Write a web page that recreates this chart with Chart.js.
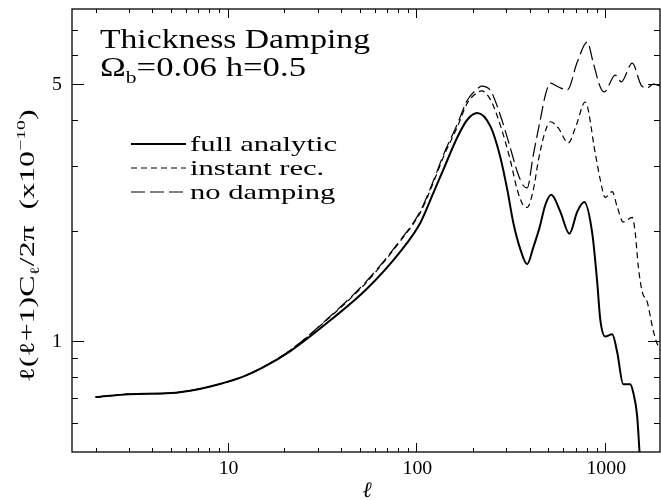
<!DOCTYPE html>
<html>
<head>
<meta charset="utf-8">
<script src="https://cdn.jsdelivr.net/npm/chart.js@4.4.1/dist/chart.umd.min.js"></script>
<style>
  html, body { margin: 0; padding: 0; background: #fff; }
</style>
</head>
<body>
<canvas id="cmbChart" width="661" height="500"></canvas>
<script>
// multipole l and l(l+1)C_l/2pi (x1e-10)
const ellFull = [2, 3, 5, 7, 9, 12, 15.5, 21.5, 35, 54, 82, 105, 123, 139, 165, 186, 210, 247, 278, 303, 326, 355, 386, 416, 448, 482, 518, 578, 646, 711, 774, 853, 907, 941, 1000, 1089, 1157, 1245, 1355, 1406, 1476, 1530];
const clFull = [0.705, 0.718, 0.723, 0.741, 0.764, 0.80, 0.85, 0.94, 1.14, 1.38, 1.75, 2.10, 2.53, 2.93, 3.59, 4.00, 4.17, 3.83, 3.17, 2.58, 2.10, 1.78, 1.62, 1.80, 2.03, 2.35, 2.50, 2.25, 1.96, 2.25, 2.39, 1.97, 1.445, 1.147, 1.03, 1.045, 0.934, 0.764, 0.764, 0.727, 0.626, 0.47];

const ellInstant = [2, 3, 5, 7, 9, 12, 15.5, 21.5, 35, 54, 82, 105, 123, 139, 165, 186, 210, 221, 247, 278, 314, 342, 368, 386, 416, 443, 475, 512, 564, 637, 703, 783, 885, 941, 1000, 1089, 1157, 1245, 1390, 1442, 1496, 1571, 1668, 1774, 1862, 1954];
const clInstant = [0.705, 0.718, 0.723, 0.741, 0.764, 0.80, 0.852, 0.945, 1.165, 1.44, 1.87, 2.24, 2.70, 3.17, 3.83, 4.44, 4.74, 4.79, 4.53, 3.87, 3.11, 2.58, 2.34, 2.31, 2.58, 3.11, 3.64, 3.95, 3.80, 3.46, 3.87, 4.47, 3.25, 2.75, 2.46, 2.55, 2.32, 2.11, 2.17, 1.97, 1.60, 1.36, 1.28, 1.10, 1.00, 0.95];

const ellNoDamp = [2, 3, 5, 7, 9, 12, 15.5, 21.5, 35, 54, 82, 105, 123, 139, 165, 186, 210, 221, 247, 278, 314, 342, 368, 386, 416, 453, 482, 512, 564, 630, 711, 803, 865, 941, 988, 1130, 1216, 1390, 1549, 1668, 1795, 1954];
const clNoDamp = [0.705, 0.718, 0.723, 0.741, 0.764, 0.80, 0.852, 0.945, 1.17, 1.45, 1.88, 2.26, 2.73, 3.21, 3.90, 4.52, 4.85, 4.94, 4.80, 4.12, 3.36, 2.89, 2.65, 2.61, 3.21, 4.00, 4.67, 5.03, 4.91, 4.82, 5.74, 6.50, 5.70, 4.91, 4.76, 5.29, 5.07, 5.70, 4.97, 4.88, 5.00, 4.94];

const seriesNames = ['full analytic', 'instant rec.', 'no damping'];

const xMajorTicks = [10, 100, 1000];
const xMinorTicks = [2, 3, 4, 5, 6, 7, 8, 9, 20, 30, 40, 50, 60, 70, 80, 90, 200, 300, 400, 500, 600, 700, 800, 900];
const yMajorTicks = [1, 5];
const yMinorTicks = [0.6, 0.7, 0.8, 0.9, 2, 3, 4, 6, 7];

const toPoints = (xs, ys) => xs.map((x, i) => ({ x: x, y: ys[i] }));

const SERIF = '"Liberation Serif", serif';

// text pieces: [text, relative size, baseline shift in em]
function richWidth(ctx, parts, size) {
    let w = 0;
    for (const [t, s] of parts) {
        ctx.font = `${size * s}px ${SERIF}`;
        w += ctx.measureText(t).width;
    }
    return w;
}
// draw pieces starting at (x, y), stretched horizontally by sx
function drawRich(ctx, parts, x, y, size, sx) {
    ctx.save();
    ctx.translate(x, y);
    ctx.scale(sx, 1);
    let cx = 0;
    for (const [t, s, dy] of parts) {
        ctx.font = `${size * s}px ${SERIF}`;
        ctx.fillText(t, cx, dy * size);
        cx += ctx.measureText(t).width;
    }
    ctx.restore();
}

const decorPlugin = {
    id: 'decor',
    afterDraw(chart) {
        const ctx = chart.ctx;
        const { left, right, top, bottom } = chart.chartArea;
        const xs = chart.scales.x, ys = chart.scales.y;
        ctx.save();
        ctx.strokeStyle = '#000';
        ctx.fillStyle = '#000';

        // frame
        ctx.lineWidth = 1.3;
        ctx.strokeRect(left, top, right - left, bottom - top);

        // inward ticks on all four sides
        ctx.lineWidth = 1;
        const xTick = (v, len) => {
            const px = Math.round(xs.getPixelForValue(v)) + 0.5;
            ctx.beginPath();
            ctx.moveTo(px, bottom); ctx.lineTo(px, bottom - len);
            ctx.moveTo(px, top); ctx.lineTo(px, top + len);
            ctx.stroke();
        };
        const yTick = (v, len) => {
            const py = Math.round(ys.getPixelForValue(v)) + 0.5;
            ctx.beginPath();
            ctx.moveTo(left, py); ctx.lineTo(left + len, py);
            ctx.moveTo(right, py); ctx.lineTo(right - len, py);
            ctx.stroke();
        };
        xMinorTicks.forEach(v => xTick(v, 4));
        xMajorTicks.forEach(v => xTick(v, 9));
        yMinorTicks.forEach(v => yTick(v, 6));
        yMajorTicks.forEach(v => yTick(v, 12));

        ctx.textBaseline = 'alphabetic';
        ctx.textAlign = 'left';

        // tick labels
        const tickSize = 18, tickSx = 1.1;
        xMajorTicks.forEach(v => {
            const w = richWidth(ctx, [[String(v), 1]], tickSize) * tickSx;
            drawRich(ctx, [[String(v), 1, 0]], xs.getPixelForValue(v) - w / 2 + 1, 474, tickSize, tickSx);
        });
        yMajorTicks.forEach(v => {
            const w = richWidth(ctx, [[String(v), 1]], tickSize) * tickSx;
            drawRich(ctx, [[String(v), 1, 0]], 62 - w, ys.getPixelForValue(v) + 6, tickSize, tickSx);
        });

        // x axis label
        ctx.textAlign = 'center';
        ctx.font = `italic 22px ${SERIF}`;
        ctx.fillText('ℓ', 367, 497);
        ctx.textAlign = 'left';

        // y axis label, rotated
        const yLabel = [['ℓ(ℓ+1)C', 1, 0], ['ℓ', 0.62, 0.22], ['/2π  (x10', 1, 0], ['−10', 0.62, -0.42], [')', 1, 0]];
        const ySize = 21;
        const yW = richWidth(ctx, yLabel, ySize);
        const ySx = 273 / yW;
        ctx.save();
        ctx.translate(34, 246);
        ctx.rotate(-Math.PI / 2);
        drawRich(ctx, yLabel, -136.5, 0, ySize, ySx);
        ctx.restore();

        // title block
        const tSize = 28;
        const t1 = [['Thickness Damping', 1, 0]];
        drawRich(ctx, t1, 100, 48, tSize, 270 / richWidth(ctx, t1, tSize));
        const t2 = [['Ω', 1, 0], ['b', 0.62, 0.25], ['=0.06 h=0.5', 1, 0]];
        drawRich(ctx, t2, 100, 76, tSize, 206 / richWidth(ctx, t2, tSize));

        // legend
        const lgSize = 21;
        const lgSx = 147 / richWidth(ctx, [[seriesNames[0], 1]], lgSize);
        const rows = [144, 168, 192];
        const dashes = [[], [6, 4], [14, 5]];
        const widths = [2, 1.2, 1.2];
        rows.forEach((ry, i) => {
            ctx.lineWidth = widths[i];
            ctx.setLineDash(dashes[i]);
            ctx.beginPath();
            ctx.moveTo(131, ry); ctx.lineTo(186, ry);
            ctx.stroke();
            ctx.setLineDash([]);
            drawRich(ctx, [[seriesNames[i], 1, 0]], 190, ry + 7, lgSize, lgSx);
        });
        ctx.restore();
    }
};

new Chart(document.getElementById('cmbChart'), {
    type: 'line',
    data: {
        datasets: [{
            label: seriesNames[0],
            data: toPoints(ellFull, clFull),
            borderColor: '#000',
            borderWidth: 2,
            pointRadius: 0,
            cubicInterpolationMode: 'monotone'
        }, {
            label: seriesNames[1],
            data: toPoints(ellInstant, clInstant),
            borderColor: '#000',
            borderWidth: 1.2,
            borderDash: [6, 4],
            pointRadius: 0,
            cubicInterpolationMode: 'monotone'
        }, {
            label: seriesNames[2],
            data: toPoints(ellNoDamp, clNoDamp),
            borderColor: '#000',
            borderWidth: 1.2,
            borderDash: [14, 5],
            pointRadius: 0,
            cubicInterpolationMode: 'monotone'
        }]
    },
    options: {
        responsive: false,
        animation: false,
        devicePixelRatio: 1,
        layout: { padding: { left: 72, right: 1, top: 9, bottom: 48 } },
        plugins: {
            legend: { display: false },
            tooltip: { enabled: false }
        },
        scales: {
            x: { type: 'logarithmic', min: 1.5, max: 1950, display: false },
            y: { type: 'logarithmic', min: 0.5, max: 8, display: false }
        }
    },
    plugins: [decorPlugin]
});
</script>
</body>
</html>
